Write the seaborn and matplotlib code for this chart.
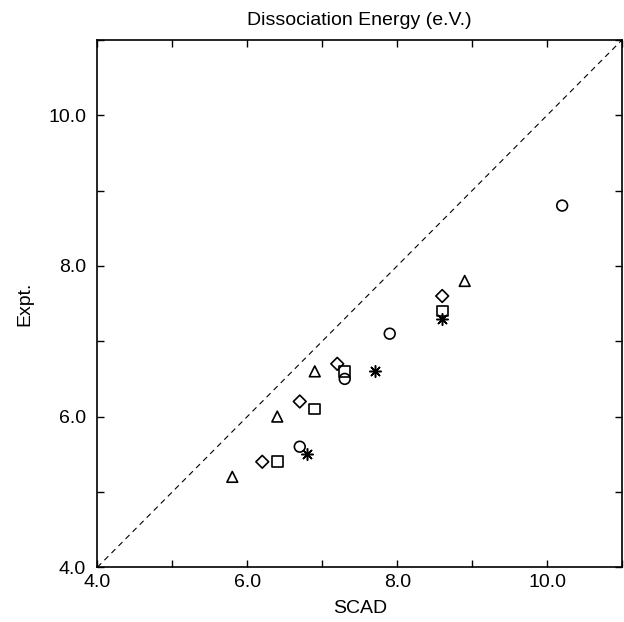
import pandas as pd
import matplotlib
matplotlib.use('Agg')
import matplotlib.pyplot as plt
import seaborn as sns

tri_x = [5.8, 6.4, 6.9, 8.9]
tri_y = [5.2, 6.0, 6.6, 7.8]
dia_x = [6.2, 6.7, 7.2, 8.6]
dia_y = [5.4, 6.2, 6.7, 7.6]
sq_x = [6.4, 6.9, 7.3, 8.6]
sq_y = [5.4, 6.1, 6.6, 7.4]
circ_x = [6.7, 7.3, 7.9, 10.2]
circ_y = [5.6, 6.5, 7.1, 8.8]
star_x = [6.8, 7.7, 8.6]
star_y = [5.5, 6.6, 7.3]

ticks = [4, 5, 6, 7, 8, 9, 10, 11]
tick_labels = ['4.0', '', '6.0', '', '8.0', '', '10.0', '']

sns.set_style('white', {'text.color': 'black', 'axes.labelcolor': 'black',
                        'xtick.color': 'black', 'ytick.color': 'black'})
plt.rcParams['font.family'] = ['Liberation Sans', 'DejaVu Sans']

fig, ax = plt.subplots(figsize=(6.24, 6.22), dpi=100)
fig.subplots_adjust(left=0.156, right=0.997, top=0.936, bottom=0.088)

# diagonal y = x
ax.plot([4, 11], [4, 11], color='black', linestyle=(0, (5, 4)), linewidth=0.8)

groups = [
    (tri_x, tri_y, '^'),
    (dia_x, dia_y, 'D'),
    (sq_x, sq_y, 's'),
    (circ_x, circ_y, 'o'),
]
for xs, ys, m in groups:
    df = pd.DataFrame({'SCAD': xs, 'Expt': ys})
    size = 42 if m == 'D' else 60
    sns.scatterplot(data=df, x='SCAD', y='Expt', ax=ax, marker=m, s=size,
                    facecolor='none', edgecolor='black', linewidth=1.2, zorder=3)

df = pd.DataFrame({'SCAD': star_x, 'Expt': star_y})
sns.scatterplot(data=df, x='SCAD', y='Expt', ax=ax, marker=(8, 2, 0), s=70,
                color='black', linewidth=1.1, zorder=3)

ax.set_xlim(4, 11)
ax.set_ylim(4, 11)
ax.set_xticks(ticks)
ax.set_xticklabels(tick_labels, fontsize=14)
ax.set_yticks(ticks)
ax.set_yticklabels(tick_labels, fontsize=14)
ax.tick_params(direction='in', length=5, width=1, top=True, right=True,
               bottom=True, left=True, colors='black', labelcolor='black')
ax.tick_params(axis='x', pad=5)
ax.tick_params(axis='y', pad=8)
for sp in ax.spines.values():
    sp.set_color('black')
    sp.set_linewidth(1.2)

ax.set_xlabel('SCAD', fontsize=14, labelpad=6, color='black')
ax.set_ylabel('Expt.', fontsize=14, labelpad=11, color='black')
ax.set_title('Dissociation Energy (e.V.)', fontsize=14, pad=11, color='black')

plt.savefig('out.png', dpi=100)
